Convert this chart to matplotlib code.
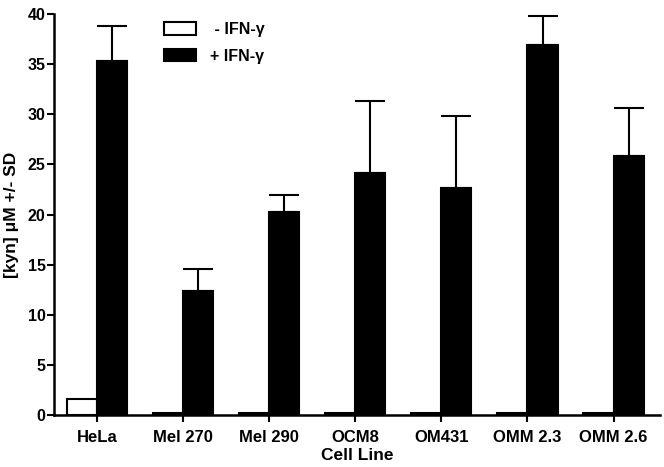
import matplotlib
matplotlib.use("Agg")
import matplotlib.pyplot as plt
import numpy as np

categories = ["HeLa", "Mel 270", "Mel 290", "OCM8", "OM431", "OMM 2.3", "OMM 2.6"]
minus_ifn = [1.6, 0.2, 0.2, 0.2, 0.2, 0.2, 0.2]
plus_ifn = [35.3, 12.4, 20.2, 24.1, 22.6, 36.9, 25.8]
plus_sd = [3.5, 2.2, 1.7, 7.2, 7.2, 2.9, 4.8]
yticks = [0, 5, 10, 15, 20, 25, 30, 35, 40]

plt.rcParams['font.family'] = ['Liberation Sans', 'DejaVu Sans']
plt.rcParams['font.weight'] = 'bold'

fig = plt.figure(figsize=(6.64, 4.67), dpi=100)
ax = fig.add_axes([54/664, 1-415/467, (660-54)/664, (415-14)/467])

x = np.arange(len(categories))
w = 0.35
ax.bar(x - w/2, minus_ifn, width=w, color='white', edgecolor='black', linewidth=1.5,
       label=' - IFN-γ', zorder=3)
ax.bar(x + w/2, plus_ifn, width=w, color='black', edgecolor='black', linewidth=1.5,
       label='+ IFN-γ', zorder=3)
ax.errorbar(x + w/2, plus_ifn, yerr=[np.zeros(len(plus_sd)), plus_sd], fmt='none',
            ecolor='black', elinewidth=1.5, capsize=11, capthick=1.5, zorder=2)

ax.set_xlim(-0.5, 6.54)
ax.set_ylim(0, 40)
ax.set_yticks(yticks)
ax.set_xticks(x)
ax.set_xticklabels(categories, fontsize=12, fontweight='bold')
ax.tick_params(axis='y', labelsize=11.5, width=1.5, length=5, direction='out', pad=1)
ax.tick_params(axis='x', width=1.5, length=5, direction='out', pad=6)
for lab in ax.get_yticklabels():
    lab.set_fontweight('bold')
for s in ['top', 'right']:
    ax.spines[s].set_visible(False)
for s in ['left', 'bottom']:
    ax.spines[s].set_linewidth(1.8)

ax.set_xlabel("Cell Line", fontsize=12.5, fontweight='bold', labelpad=2)
ax.set_ylabel("[kyn] μM +/- SD", fontsize=12.5, fontweight='bold', labelpad=6)

ax.legend(loc='upper left', bbox_to_anchor=(0.158, 1.016), frameon=False, fontsize=11.5,
          handlelength=2.0, handleheight=0.8, handletextpad=0.9, labelspacing=0.75)

fig.savefig("out.png", dpi=100)
